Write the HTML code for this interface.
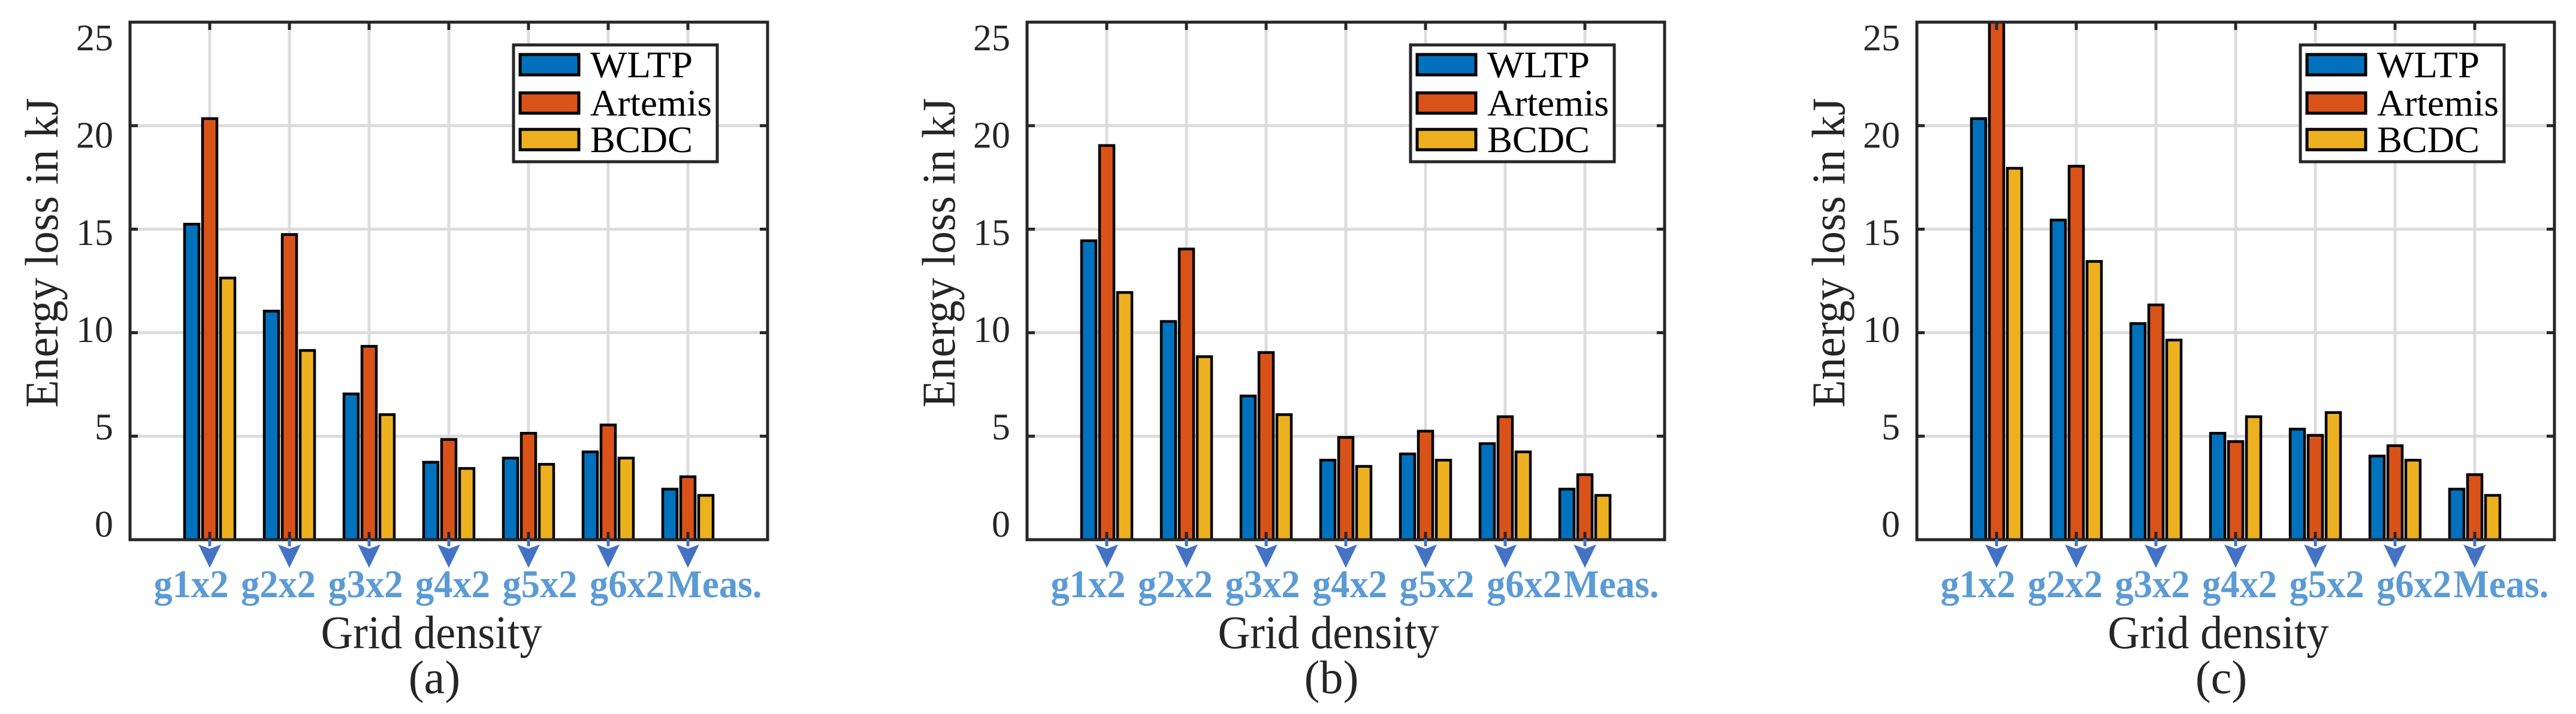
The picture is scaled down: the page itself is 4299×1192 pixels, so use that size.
<!DOCTYPE html>
<html><head><meta charset="utf-8">
<style>
html,body{margin:0;padding:0;background:#fff;}
svg{display:block;}
text{font-family:"Liberation Serif",serif;}
</style></head>
<body>
<svg id="fig" xmlns="http://www.w3.org/2000/svg" width="4299" height="1192" viewBox="0 0 4299 1192"></svg>
<script>
const categories = ["g1x2","g2x2","g3x2","g4x2","g5x2","g6x2","Meas."];
const seriesNames = ["WLTP","Artemis","BCDC"];
const wltpA = [15.3,11.1,7.1,3.8,4.0,4.3,2.5];
const artemisA = [20.4,14.8,9.4,4.9,5.2,5.6,3.1];
const bcdcA = [12.7,9.2,6.1,3.5,3.7,4.0,2.2];
const wltpB = [14.5,10.6,7.0,3.9,4.2,4.7,2.5];
const artemisB = [19.1,14.1,9.1,5.0,5.3,6.0,3.2];
const bcdcB = [12.0,8.9,6.1,3.6,3.9,4.3,2.2];
const wltpC = [20.4,15.5,10.5,5.2,5.4,4.1,2.5];
const artemisC = [27.0,18.1,11.4,4.8,5.1,4.6,3.2];
const bcdcC = [18.0,13.5,9.7,6.0,6.2,3.9,2.2];
const yTicks = [0,5,10,15,20,25];
const yTickLabels = ["0","5","10","15","20","25"];
const panelLetters = ["(a)","(b)","(c)"];

const NS = "http://www.w3.org/2000/svg";
const svg = document.getElementById("fig");
const colors = ["#0072BD","#D95319","#EDB120"];
function mk(tag, attrs, parent){
  const e = document.createElementNS(NS, tag);
  for (const k in attrs) e.setAttribute(k, attrs[k]);
  (parent||svg).appendChild(e);
  return e;
}

const panels = [
  {left:217, data:[wltpA,artemisA,bcdcA]},
  {left:1714, data:[wltpB,artemisB,bcdcB]},
  {left:3199, data:[wltpC,artemisC,bcdcC]}
];
const TOP = 37, BOT = 901, W = 1064, YMAX = 25, XMAX = 8;

panels.forEach((p, pi) => {
  const g = mk("g", {});
  
  
  const L = p.left, R = L + W;
  const xs = v => L + v / XMAX * W;
  const ys = v => BOT - v / YMAX * (BOT - TOP);

  const clip = mk("clipPath", {id:"clip"+pi}, g);
  mk("rect", {x:L, y:TOP, width:W, height:BOT-TOP}, clip);

  for (let i = 1; i <= categories.length; i++) {
    const gl = mk("line", {x1:xs(i), x2:xs(i), y1:TOP, y2:BOT, stroke:"#dcdcdc", "stroke-width":5}, g);
    
    
  }
  yTicks.forEach(t => {
    if (t === 0 || t === YMAX) return;
    const gl = mk("line", {x1:L, x2:R, y1:ys(t), y2:ys(t), stroke:"#dcdcdc", "stroke-width":5}, g);
    
    
  });

  const bg = mk("g", {"clip-path":"url(#clip"+pi+")"}, g);
  p.data.forEach((arr, si) => {
    arr.forEach((v, ci) => {
      const cx = xs(ci + 1) + (si - 1) * 30;
      const b = mk("rect", {x:cx-12, y:ys(v)+2, width:24, height:ys(0)-ys(v)-2, fill:colors[si], stroke:"#000", "stroke-width":4.5}, bg);
      
      
    });
  });

  for (let i = 1; i <= categories.length; i++) {
    mk("line", {x1:xs(i), x2:xs(i), y1:BOT, y2:BOT-13, stroke:"#262626", "stroke-width":5}, g);
    mk("line", {x1:xs(i), x2:xs(i), y1:TOP, y2:TOP+13, stroke:"#262626", "stroke-width":5}, g);
  }
  yTicks.forEach(t => {
    mk("line", {x1:L, x2:L+13, y1:ys(t), y2:ys(t), stroke:"#262626", "stroke-width":5}, g);
    mk("line", {x1:R, x2:R-13, y1:ys(t), y2:ys(t), stroke:"#262626", "stroke-width":5}, g);
  });
  const frame = mk("rect", {x:L, y:TOP, width:W, height:BOT-TOP, fill:"none", stroke:"#262626", "stroke-width":5}, g);
  
  

  yTicks.forEach((t, ti) => {
    const ty = 875 - ti * 162.4 + 21;
    const tl = mk("text", {x:L-28, y:ty, "text-anchor":"end", "font-size":62, fill:"#262626"}, g);
    tl.textContent = yTickLabels[ti];
    
    
  });

  categories.forEach((c, ci) => {
    const ax = xs(ci + 1);
    mk("line", {x1:ax, x2:ax, y1:900, y2:912, stroke:"#4472C4", "stroke-width":5}, g);
    const ar = mk("polygon", {points:`${ax-19},909 ${ax},916 ${ax+19},909 ${ax},948`, fill:"#4472C4"}, g);
    
    
    const lx = L + 102 + ci * 145.5;
    const xl = mk("text", {x:lx, y:997, "text-anchor":"middle", "font-size":66, "font-weight":"bold", fill:"#5B9BD5", textLength:(c === "Meas." ? 159 : 125), lengthAdjust:"spacingAndGlyphs"}, g);
    xl.textContent = c;
    
    
  });

  const xt = mk("text", {x:L+503, y:1082, "text-anchor":"middle", "font-size":78, fill:"#262626", textLength:369, lengthAdjust:"spacingAndGlyphs"}, g);
  xt.textContent = "Grid density";
  
  

  const pl = mk("text", {x:L+508, y:1157, "text-anchor":"middle", "font-size":78, fill:"#262626"}, g);
  pl.textContent = panelLetters[pi];
  
  

  const yt = mk("text", {x:0, y:0, "text-anchor":"middle", "font-size":78, fill:"#262626", textLength:517, lengthAdjust:"spacingAndGlyphs", transform:`translate(${L-121},422) rotate(-90)`}, g);
  yt.textContent = "Energy loss in kJ";
  
  

  const lg = mk("g", {}, g);
  
  
  const lr = R - 84, lw = 340, lt = 75, lh = 195;
  mk("rect", {x:lr-lw, y:lt, width:lw, height:lh, fill:"#fff", stroke:"#262626", "stroke-width":5}, lg);
  const rowsY = [108, 172, 233];
  const lens = [171, 203, 171];
  seriesNames.forEach((n, si) => {
    const sw = mk("rect", {x:lr-lw+11, y:rowsY[si]-17, width:98, height:34, fill:colors[si], stroke:"#000", "stroke-width":5}, lg);
    
    
    const lt2 = mk("text", {x:lr-lw+128, y:rowsY[si]+21, "font-size":62, fill:"#000", textLength:lens[si], lengthAdjust:"spacingAndGlyphs"}, lg);
    lt2.textContent = n;
    
    
  });
});
</script>
</body></html>
